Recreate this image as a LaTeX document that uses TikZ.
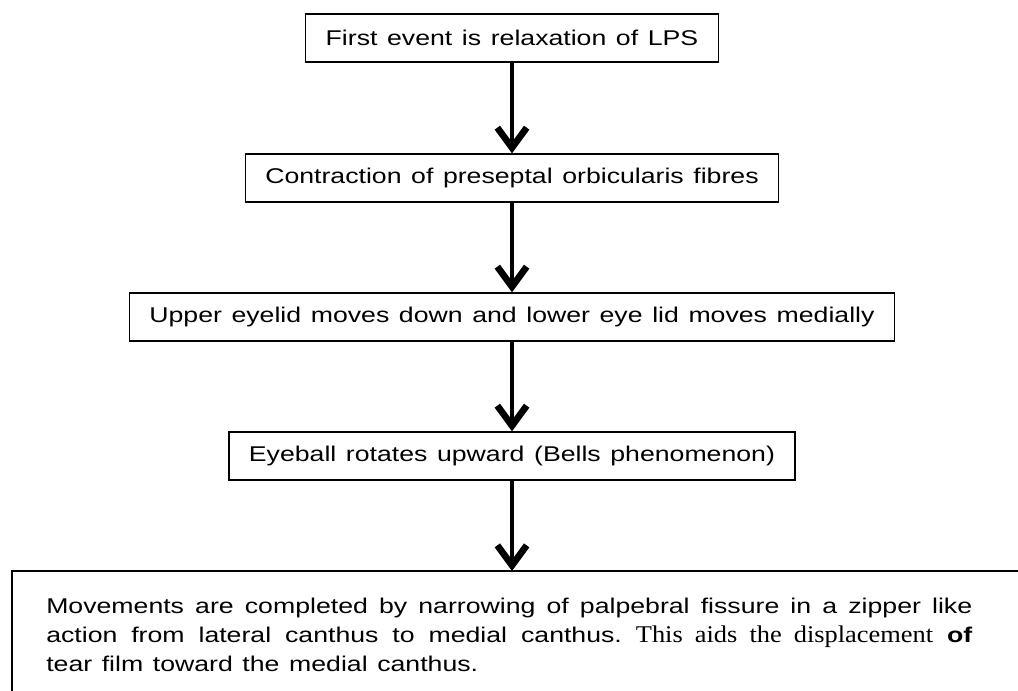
\documentclass[tikz,border=0pt]{standalone}
\usepackage{fontspec}
\setmainfont[FakeStretch=1.25]{Liberation Sans}
\newfontfamily\timespart[FakeStretch=1.1]{Liberation Serif}
\usetikzlibrary{arrows.meta}

\newcommand\boxfont{\fontsize{16}{20}\selectfont\spaceskip=0.45em plus 0.3em minus 0.1em\relax}
\newcommand\zipfont{\fontsize{16}{21.75}\selectfont\frenchspacing\spaceskip=0.45em plus 1em minus 0.1em\relax\tolerance=9999\relax}

\tikzset{
  flowbox/.style={draw, line width=1pt, inner xsep=15pt, inner ysep=0pt, minimum height=36pt, font=\boxfont},
  flowarrow/.style={line width=3.6pt, -{Straight Barb[length=15pt,width=22pt,line width=5pt]}},
}

\begin{document}
\begin{tikzpicture}[x=0.75pt,y=-0.75pt]
    \path[use as bounding box, clip] (0,0) rectangle (1018,691);
    \node[flowbox] (lps) at (512,38) {First event is relaxation of LPS};
    \node[flowbox] (preseptal) at (512,178) {Contraction of preseptal orbicularis fibres};
    \node[flowbox] (lids) at (512,317) {Upper eyelid moves down and lower eye lid moves medially};
    \node[flowbox] (bell) at (512,456) {Eyeball rotates upward (Bells phenomenon)};
    \node[anchor=north west, inner xsep=25.5pt, inner ysep=19.8pt, text width=694.5pt, align=justify, font=\zipfont] (zipper) at (12,571)
        {Movements are completed by narrowing of palpebral fissure in a zipper like\linebreak
        action from lateral canthus to medial canthus. {\timespart\fontsize{18}{21.75}\selectfont\spaceskip=0.3em plus 1em minus 0.1em\relax This aids the displacement} \textbf{of}\linebreak
        tear film toward the medial canthus.};
    \draw[line width=1pt] (zipper.south west) -- (zipper.north west) -- ([xshift=30pt]zipper.north east);
    \draw[flowarrow] (lps) -- (preseptal);
    \draw[flowarrow] (preseptal) -- (lids);
    \draw[flowarrow] (lids) -- (bell);
    \draw[flowarrow] (bell) -- (zipper.north -| bell.south);
\end{tikzpicture}
\end{document}
